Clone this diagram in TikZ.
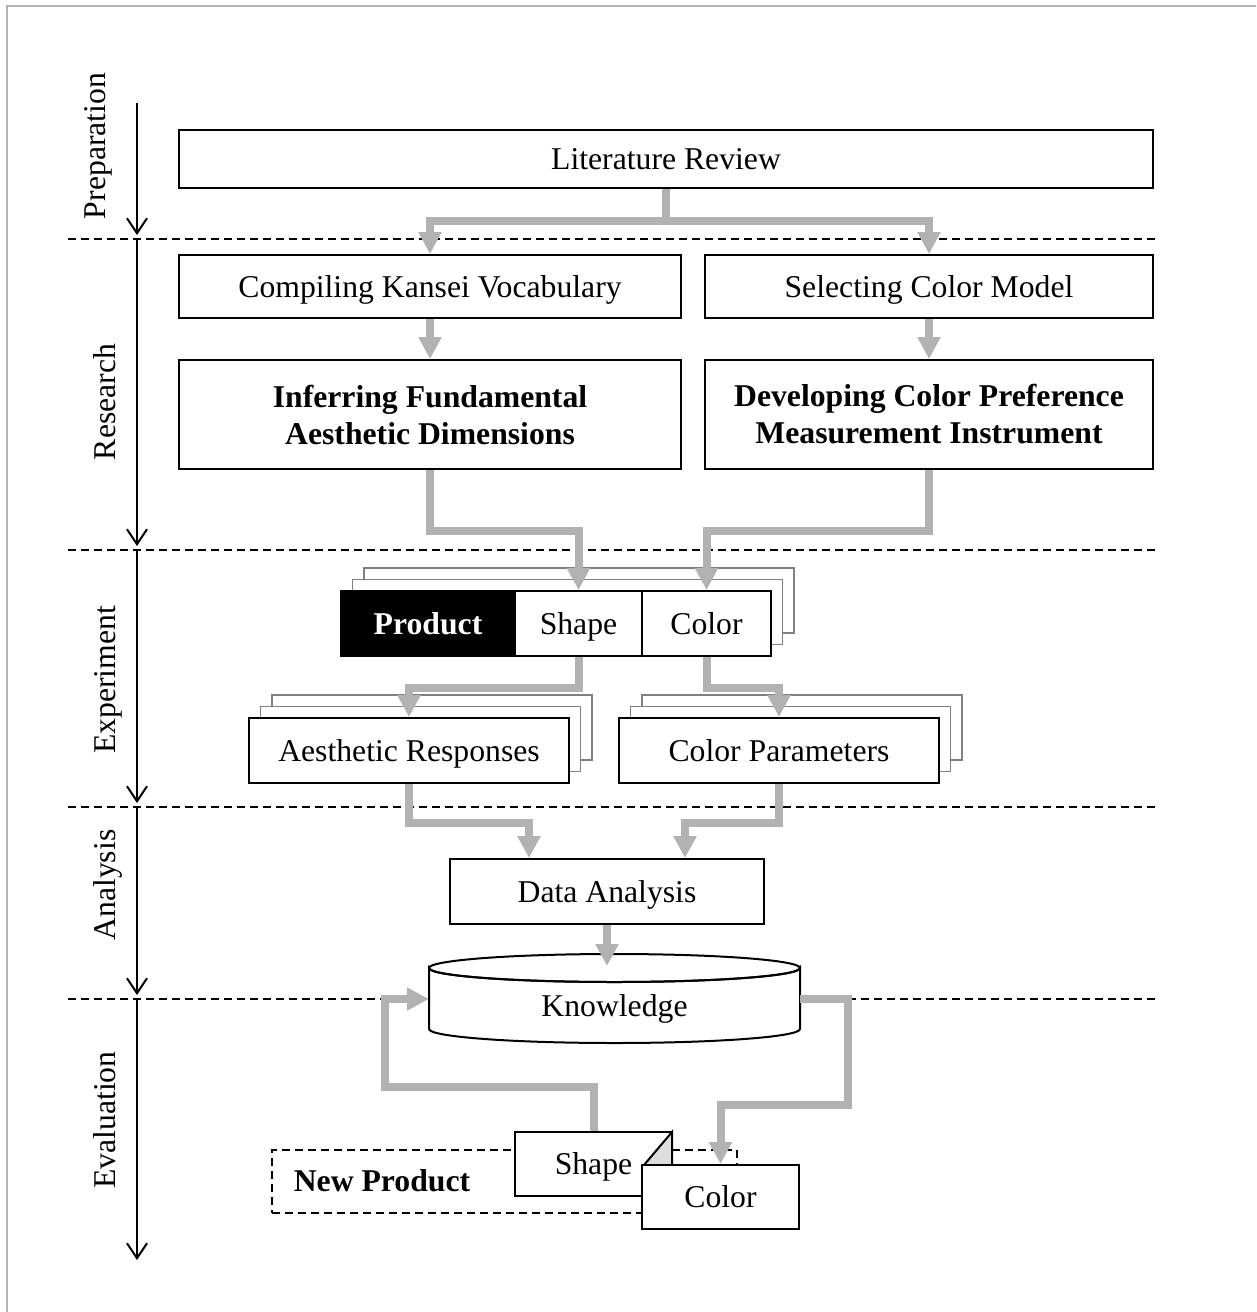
\documentclass[tikz,border=0pt]{standalone}
\usepackage{fontspec}
\setmainfont{Liberation Serif}
\usetikzlibrary{arrows.meta}
\definecolor{flowgray}{RGB}{178,178,178}
\definecolor{stackgray}{RGB}{128,128,128}
\definecolor{framegray}{RGB}{180,180,180}
\definecolor{foldgray}{RGB}{221,221,221}
\begin{document}
\begin{tikzpicture}[x=1pt,y=-1pt,
  font=\fontsize{31.7}{37}\selectfont,
  plainbox/.style={draw=black, line width=2pt, fill=white, inner sep=0pt, align=center},
  evenline/.style={text height=28pt, text depth=7pt},
  oneline/.style={plainbox, evenline},
  boldbox/.style={plainbox, font=\fontsize{31.7}{37}\selectfont\bfseries},
  stackbox/.style={draw=stackgray, line width=1.6pt, fill=white},
  flow/.style={draw=flowgray, line width=8pt, line join=miter, -{Triangle[length=22pt,width=22pt]}},
  phase/.style={line width=2pt, -{Straight Barb[length=15pt,width=20pt]}},
  divider/.style={line width=2pt, dash pattern=on 8pt off 5pt},
  phaselabel/.style={rotate=90, anchor=base, inner sep=0pt}
]
\useasboundingbox (0,0) rectangle (1256,1312);
\begin{scope}
  \clip (0,0) rectangle (1256,1312);
  \draw[framegray, line width=2.5pt] (7,6) rectangle (1300,1360);
\end{scope}

% phase separators
\foreach \yy in {239,550,807,999}
  \draw[divider] (68,\yy) -- (1155,\yy);

% phase axis
\draw[phase] (137,103) -- (137,235);
\draw[phase] (137,239) -- (137,546);
\draw[phase] (137,550) -- (137,803);
\draw[phase] (137,807) -- (137,995);
\draw[phase] (137,999) -- (137,1260);

\node[phaselabel] (lprep) at (105,146) {Preparation};
\node[phaselabel] (lres)  at (115,402) {Research};
\node[phaselabel] (lexp)  at (115,680) {Experiment};
\node[phaselabel] (lana)  at (115,885) {Analysis};
\node[phaselabel] (leva)  at (115,1120) {Evaluation};

% preparation and research
\node[oneline, minimum width=974pt, minimum height=58pt] (lit) at (666,159) {Literature Review};
\node[oneline, minimum width=502pt, minimum height=63pt] (kan) at (430,286.5) {Compiling Kansei Vocabulary};
\node[oneline, minimum width=448pt, minimum height=63pt] (sel) at (929,286.5) {Selecting Color Model};
\node[boldbox, minimum width=502pt, minimum height=109pt] (inf) at (430,414.5) {Inferring Fundamental\\Aesthetic Dimensions};
\node[boldbox, minimum width=448pt, minimum height=109pt] (dev) at (929,414.5) {Developing Color Preference\\Measurement Instrument};

% experiment: stacked product cards
\draw[stackbox] (364,568) rectangle (794,633);
\draw[stackbox] (352.5,579.5) rectangle (782.5,644.5);
\node[oneline, fill=black, text=white, font=\fontsize{31.7}{37}\selectfont\bfseries, minimum width=174pt, minimum height=65pt] (prod) at (428,623.5) {Product};
\node[oneline, minimum width=127pt, minimum height=65pt] (shp) at (578.5,623.5) {Shape};
\node[oneline, minimum width=129pt, minimum height=65pt] (col) at (706.5,623.5) {Color};

\draw[stackbox] (272,695) rectangle (592,760);
\draw[stackbox] (260.5,706.5) rectangle (580.5,771.5);
\node[oneline, minimum width=320pt, minimum height=65pt] (aes) at (409,750.5) {Aesthetic Responses};
\draw[stackbox] (642,695) rectangle (962,760);
\draw[stackbox] (630.5,706.5) rectangle (950.5,771.5);
\node[oneline, minimum width=320pt, minimum height=65pt] (cpar) at (779,750.5) {Color Parameters};

% analysis
\node[oneline, minimum width=314pt, minimum height=65pt] (data) at (607,891.5) {Data Analysis};

% knowledge store
\filldraw[fill=white, line width=2pt] (429,968) -- (429,1029)
  arc[start angle=180, end angle=360, x radius=185.5pt, y radius=14pt]
  -- (800,968) arc[start angle=0, end angle=-180, x radius=185.5pt, y radius=14pt] -- cycle;
\draw[line width=2pt] (614.5,968) ellipse [x radius=185.5pt, y radius=14pt];
\node[inner sep=0pt, evenline, minimum width=371pt, minimum height=75pt] (know) at (614.5,1006) {Knowledge};
\coordinate (ktop) at (614.5,966);
\coordinate (kwest) at ([yshift=7pt]know.west);
\coordinate (keast) at ([yshift=7pt]know.east);

% evaluation: new product
\node[draw, divider, minimum width=465pt, minimum height=63pt, inner sep=0pt] (npframe) at (504.5,1181.5) {};
\node[font=\fontsize{31.7}{37}\selectfont\bfseries, evenline] (nptext) at (382,1181) {New Product};
\node[oneline, minimum width=157pt, minimum height=64pt] (nshape) at (593.5,1164) {Shape};
\filldraw[fill=foldgray, line width=2pt] (672,1132) -- (672,1165) -- (644,1165) -- cycle;
\node[oneline, minimum width=157pt, minimum height=64pt] (ncol) at (720.5,1197) {Color};
\coordinate (loopL) at (385,1087);
\coordinate (loopR) at (848,1105);

% flows
\draw[flow] (lit.south) -- ++(0,32) -| (kan.north);
\draw[flow] (lit.south) -- ++(0,32) -| (sel.north);
\draw[flow] (kan.south) -- (inf.north);
\draw[flow] (sel.south) -- (dev.north);
\draw[flow] (inf.south) -- ++(0,61) -| (shp.north);
\draw[flow] (dev.south) -- ++(0,61) -| (col.north);
\draw[flow] (shp.south) -- ++(0,31) -| (aes.north);
\draw[flow] (col.south) -- ++(0,31) -| (cpar.north);
\draw[flow] (aes.south) -- ++(0,39) -| ([xshift=-78pt]data.north);
\draw[flow] (cpar.south) -- ++(0,39) -| ([xshift=78pt]data.north);
\draw[flow] (data.south) -- (data.south |- ktop);
\draw[flow] (nshape.north) |- (loopL) |- (kwest);
\draw[flow] (keast) -| (loopR) -| (ncol.north);
\end{tikzpicture}
\end{document}
